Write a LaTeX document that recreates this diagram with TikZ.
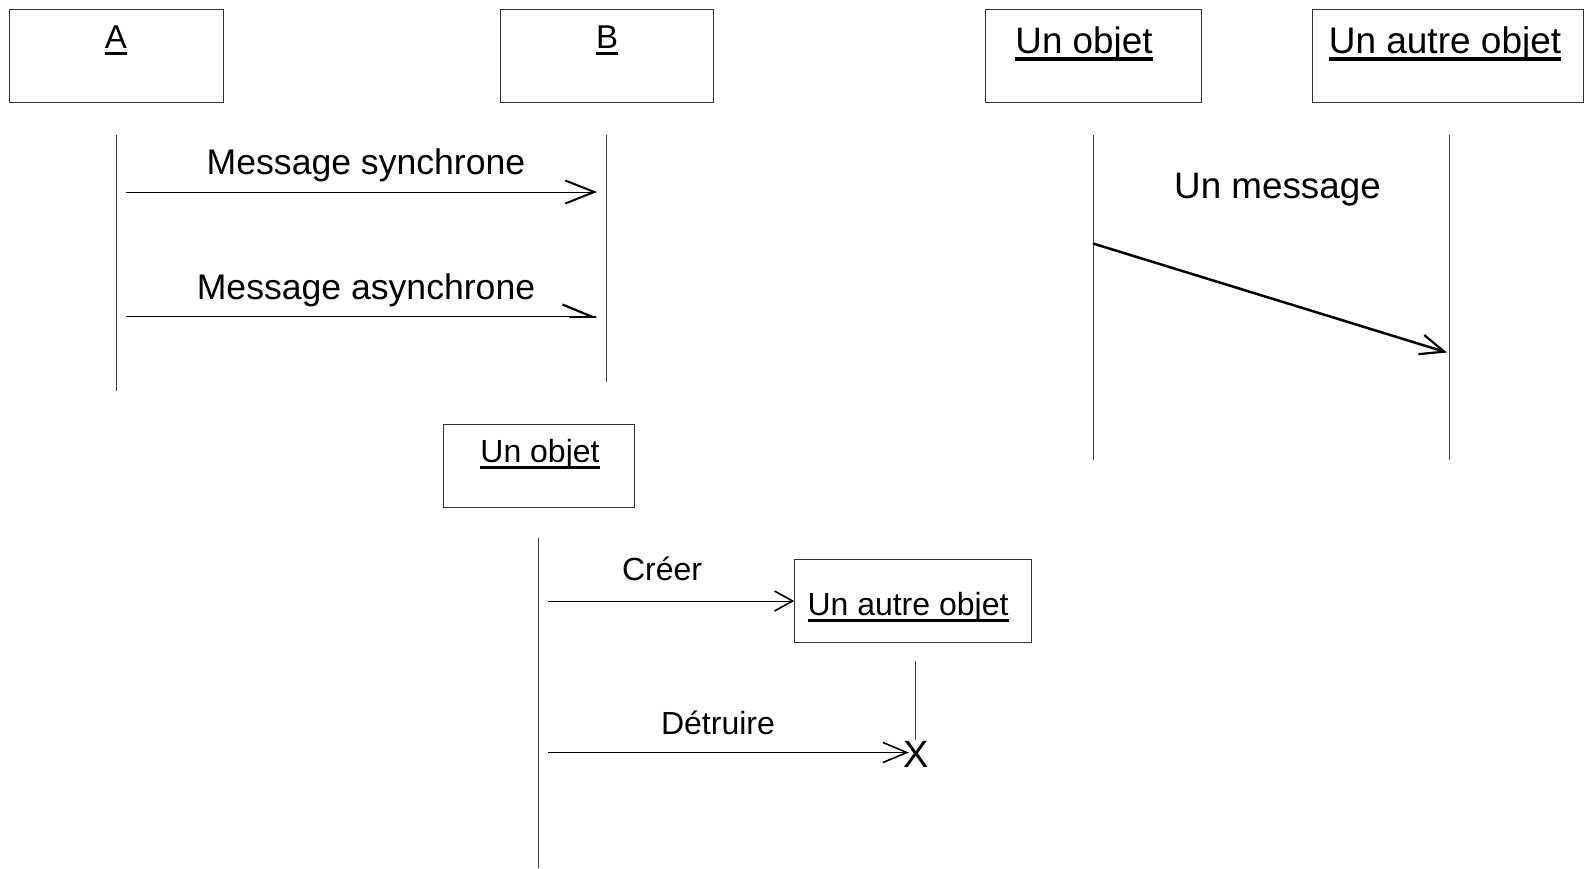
\documentclass[tikz,border=0pt]{standalone}
\usepackage{fontspec}
\setmainfont{Liberation Sans}
\usetikzlibrary{arrows.meta}
% underlined object name
\newcommand\objname[1]{\setbox0=\hbox{#1}\rlap{\vrule width\wd0 height -0.12em depth 0.21em}\box0}
\newcommand\fsz[1]{\fontsize{#1}{1.2\dimexpr#1\relax}\selectfont}
\begin{document}
\begin{tikzpicture}[x=0.5pt,y=-0.5pt,
  objbox/.style={draw=black!80,line width=0.5pt,rectangle,inner sep=0pt,minimum height=46.5pt},
  objbox2/.style={draw=black!80,line width=0.5pt,rectangle,inner sep=0pt,minimum height=41.75pt},
  lifeline/.style={draw=black!75,line width=0.5pt},
  msg/.style={draw=black,line width=0.5pt},
  txt/.style={anchor=base,inner sep=0pt,text=black}]
\useasboundingbox[fill=white] (0,0) rectangle (1584,868);

% --- A / B ---
\node[objbox,minimum width=107pt] (boxA) at (116,55.5) {};
\node[objbox,minimum width=106.5pt] (boxB) at (606.5,55.5) {};
\node[txt,font=\fsz{16.5pt}] (labA) at (116,48) {\objname{A}};
\node[txt,font=\fsz{16.5pt}] (labB) at (607,48) {\objname{B}};
\coordinate (llA1) at (116,135); \coordinate (llA2) at (116,391);
\coordinate (llB1) at (606,135); \coordinate (llB2) at (606,382);
\draw[lifeline] (llA1) -- (llA2);
\draw[lifeline] (llB1) -- (llB2);

\coordinate (s1) at (126,192); \coordinate (s2) at (597,192);
\draw[msg,-{Straight Barb[length=14.5pt,width=11.5pt,line width=1pt]}] (s1) -- (s2);
\node[txt,font=\fsz{17.8pt}] (lsync) at (366,174) {Message synchrone};

% asynchronous message: half arrow head
\coordinate (as1) at (126,316.5); \coordinate (as2) at (597,316.5);
\draw[msg,-{Straight Barb[harpoon,length=14.5pt,width=12pt,line width=1.1pt]}] (as1) -- (as2);
\draw[line width=1pt] ([xshift=-14pt]as2) -- ([xshift=-0.5pt]as2);
\node[txt,font=\fsz{17.8pt}] (lasync) at (366,299) {Message asynchrone};

% --- Un objet / Un autre objet (top right) ---
\node[objbox,minimum width=108pt] (boxO) at (1093,55.5) {};
\node[objbox,minimum width=135.5pt] (boxP) at (1447.5,55.5) {};
\node[txt,font=\fsz{18.4pt}] (labO) at (1084,53) {\objname{Un objet}};
\node[txt,font=\fsz{18.5pt}] (labP) at (1445,53) {\objname{Un autre objet}};
\coordinate (llO1) at (1093,135); \coordinate (llO2) at (1093,460);
\coordinate (llP1) at (1449,135); \coordinate (llP2) at (1449,460);
\draw[lifeline] (llO1) -- (llO2);
\draw[lifeline] (llP1) -- (llP2);

\coordinate (m1) at (1093,243.5); \coordinate (m2) at (1447,352.5);
\draw[draw=black,line width=1.25pt,-{Straight Barb[length=12pt,width=10pt,line width=1.1pt]}] (m1) -- (m2);
\node[txt,font=\fsz{18.4pt}] (lmsg) at (1277.5,198) {Un message};

% --- creation / destruction ---
\node[objbox2,minimum width=95.5pt] (boxC) at (538.5,466) {};
\node[txt,font=\fsz{16pt}] (labC) at (540,462) {\objname{Un objet}};
\coordinate (llC1) at (538,538); \coordinate (llC2) at (538,868);
\draw[lifeline] (llC1) -- (llC2);

\node[objbox2,minimum width=118.25pt] (boxD) at (913,601) {};
\node[txt,font=\fsz{16pt}] (labD) at (908,615) {\objname{Un autre objet}};

\coordinate (c1) at (547.5,601);
\draw[msg,-{Straight Barb[length=9pt,width=10pt,line width=0.8pt]}] (c1) -- (boxD.west);
\node[txt,font=\fsz{16pt}] (lcreer) at (662,580) {Créer};

\node[txt,font=\fsz{19pt}] (xend) at (916,767) {X};
\coordinate (llD1) at (915,661);
\draw[lifeline] (llD1) -- (llD1 |- xend.north);

\coordinate (d1) at (547.5,752.5); \coordinate (d2) at (909,752.5);
\draw[msg,-{Straight Barb[length=12pt,width=10pt,line width=0.8pt]}] (d1) -- (d2);
\node[txt,font=\fsz{16pt}] (ldetr) at (718,734) {Détruire};
\end{tikzpicture}
\end{document}
